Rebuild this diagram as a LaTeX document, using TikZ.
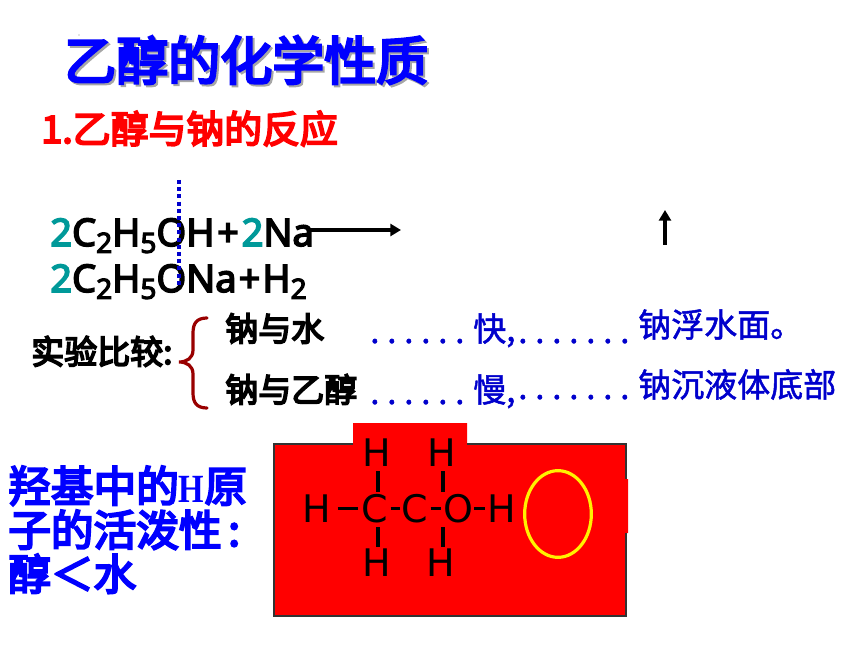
\documentclass[tikz,border=0pt]{standalone}
\usepackage{fontspec}
\usepackage{graphicx}
\usetikzlibrary{arrows.meta,shapes.geometric}
\setmainfont{Noto Sans}
\newfontfamily\fml{Noto Sans}[FakeBold=4]
\newfontfamily\cjk{Noto Sans CJK SC}
\newfontfamily\cjkb{Noto Sans CJK SC}[FakeBold=5]
\newfontfamily\cjkl{Noto Sans CJK SC}[FakeBold=1.5]
\newfontfamily\lserif{Liberation Serif}
\newfontfamily\djvu{DejaVu Sans}
\newcommand{\fsz}[1]{\fontsize{#1}{#1}\selectfont}
\newcommand{\sbs}[1]{\raisebox{-0.18em}{\fontsize{21}{21}\selectfont #1}}
\newcommand{\teal}[1]{\textcolor{tealc}{#1}}
\newcommand{\dotrow}[1]{\foreach \i in {1,...,#1}{\makebox[12.75pt][l]{.}}}
\definecolor{tealc}{HTML}{009999}
\definecolor{deepblue}{HTML}{0000CC}
\definecolor{bracec}{HTML}{990000}
\tikzset{
  txt/.style={inner sep=0pt,anchor=base west,text depth=0pt},
  titlet/.style={txt,font=\cjkb\fsz{39}},
  subt/.style={txt,font=\cjkb\fsz{28.4},text=red},
  formula/.style={txt,font=\fml\fsz{28.6}},
  cmp/.style={txt,font=\cjkb\fsz{24.75}},
  note/.style={txt,font=\cjkl\fsz{24.75},text=deepblue},
  dotsrow/.style={txt,font=\cjkl\fsz{24.75},text=deepblue},
  leftnote/.style={txt,font=\cjkb\fsz{32},text=blue},
  atom/.style={inner sep=0pt,anchor=base,font=\djvu\fsz{28.5},text height=20.8pt,text depth=0pt},
  bond/.style={line width=2.4pt,black},
  rarrow/.style={line width=2.6pt,-{Triangle[length=8pt,width=9pt]}}
}
\begin{document}
\begin{tikzpicture}[x=0.75pt,y=-0.75pt]
\useasboundingbox (0,0) rectangle (860,645);
% title
\node[titlet,text=black!35] (titleshadow) at (66,82) {乙醇的化学性质};
\node[titlet,text=blue] (title) at (64,80) {乙醇的化学性质};
\fill[black!45] (79,35) circle (0.6);
\node[subt] (sub) at (41,143) {1.乙醇与钠的反应};
% formula
\node[formula] (f1) at (50,246) {\teal{2}C\sbs{2}H\sbs{5}OH\kern2pt+\kern2pt\teal{2}Na};
\node[formula] (f2) at (50,292) {\teal{2}C\sbs{2}H\sbs{5}ONa\kern1.5pt+\kern1.5ptH\sbs{2}};
\coordinate (dt) at (179,180);
\coordinate (db) at (179,285);
\draw[blue!80!black,line width=3.5pt,dash pattern=on 3pt off 2.4pt] (dt) -- (db);
\coordinate (a1s) at (308,230);
\coordinate (a1e) at (401,230);
\draw[rarrow] (a1s) -- (a1e);
\coordinate (a2s) at (665,245);
\coordinate (a2e) at (665,210);
\draw[rarrow] (a2s) -- (a2e);
% comparison
\node[cmp] (cmpl) at (31,364) {实验比较:};
\draw[bracec,line width=2.4pt,line cap=round] (207,318) .. controls (197,318) and (193,323) .. (193,333) -- (193,350) .. controls (193,358) and (187,362) .. (179,362) .. controls (187,362) and (193,366) .. (193,374) -- (193,393) .. controls (193,403) and (197,408) .. (207,408);
\node[cmp] (na1) at (225,341) {钠与水};
\node[cmp] (na2) at (225,402) {钠与乙醇};
\node[dotsrow] (d1) at (370,343) {\dotrow{6}};
\node[note] (k1) at (473,341) {快,};
\node[dotsrow] (d2) at (518,343) {\dotrow{7}};
\node[note] (r1) at (638,337) {钠浮水面。};
\node[dotsrow] (d3) at (370,404) {\dotrow{6}};
\node[note] (k2) at (473,402) {慢,};
\node[dotsrow] (d4) at (518,399) {\dotrow{7}};
\node[note] (r2) at (638,397) {钠沉液体底部};
% left note
\node[leftnote] (l1) at (8,502) {羟基中的\scalebox{0.82}[1]{\lserif\bfseries\fsz{30}H}原};
\node[leftnote] (l2) at (8,546) {子的活泼性\kern5pt:};
\node[leftnote] (l3) at (8,590) {醇＜水};
% red panel
\fill[red] (274,444) -- (353,444) -- (353,423) -- (467,423) -- (467,444) -- (626,444) -- (626,479) -- (628,479) -- (628,533) -- (626,533) -- (626,616) -- (274,616) -- cycle;
\draw[black!80,line width=0.8pt] (353,444) -- (274,444) -- (274,616) -- (626,616) -- (626,533);
\draw[black!80,line width=0.8pt] (467,444) -- (626,444) -- (626,479);
% structure
\node[atom] (ht1) at (377,466) {H};
\node[atom] (ht2) at (442,466) {H};
\node[atom] (hl) at (317,522) {H};
\node[atom] (c1) at (375,522) {C};
\node[atom] (c2) at (415,522) {C};
\node[atom] (o) at (458,522) {O};
\node[atom] (hr) at (502,522) {H};
\node[atom] (hb1) at (377,576) {H};
\node[atom] (hb2) at (441,576) {H};
\draw[bond] ([shift={(6,0)}]hl.east) -- ([shift={(-3,0)}]c1.west);
\draw[bond] ([shift={(2,0)}]c1.east) -- ([shift={(-1,0)}]c2.west);
\draw[bond] ([shift={(2,0)}]c2.east) -- ([shift={(-2,0)}]o.west);
\draw[bond] ([shift={(1,0)}]o.east) -- ([shift={(-2,0)}]hr.west);
\draw[bond] ([shift={(1,5)}]ht1.south) -- ([shift={(3,-2)}]c1.north);
\draw[bond] ([shift={(3,5)}]c1.south) -- ([shift={(1,-1)}]hb1.north);
\draw[bond] ([shift={(1,5)}]ht2.south) -- ([shift={(1,-2)}]ht2.south |- c2.north);
\draw[bond] ([shift={(2,5)}]hb2.north |- o.south) -- ([shift={(2,-1)}]hb2.north);
\node[draw=yellow,line width=2.4pt,ellipse,minimum width=50pt,minimum height=65pt,inner sep=0pt] (oval) at (558,514) {};
\end{tikzpicture}
\end{document}
